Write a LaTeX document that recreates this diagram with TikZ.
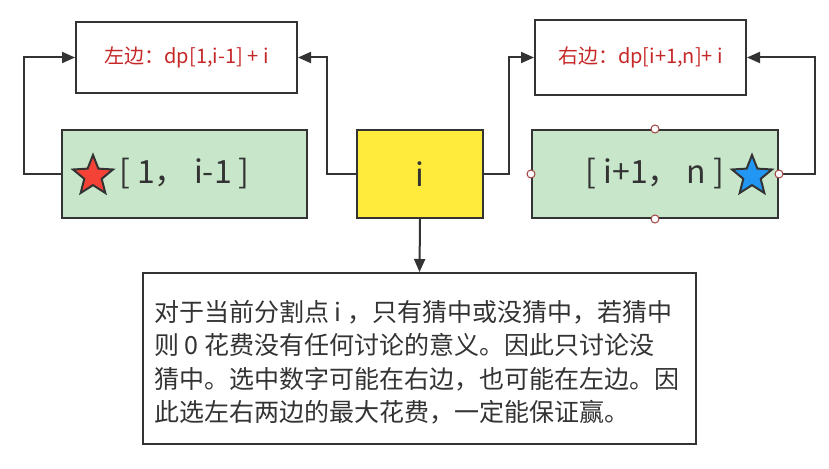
\documentclass[tikz,border=0pt]{standalone}
\usepackage{fontspec}
\setmainfont{Noto Sans CJK SC}
\usetikzlibrary{arrows.meta,shapes.geometric}
\definecolor{edge}{RGB}{51,51,51}
\definecolor{boxgreen}{RGB}{200,230,201}
\definecolor{boxyellow}{RGB}{255,235,59}
\definecolor{labelred}{RGB}{198,40,40}
\definecolor{starred}{RGB}{244,67,54}
\definecolor{starblue}{RGB}{33,150,243}
\definecolor{handle}{RGB}{160,64,64}
\tikzset{
  box/.style={draw=edge,line width=2pt,rectangle,inner sep=0pt,text=edge},
  conn/.style={draw=edge,line width=2pt,-{Triangle[length=13pt,width=11pt]},rounded corners=0pt},
  starnode/.style={star,star points=5,star point ratio=2.3,minimum size=42pt,inner sep=0pt,draw=edge,line width=2pt},
  hnd/.style={circle,draw=handle,fill=white,line width=1pt,minimum size=8pt,inner sep=0pt},
}
\begin{document}
\begin{tikzpicture}[x=1pt,y=-1pt]
\useasboundingbox (0,0) rectangle (829,468);
% top boxes
\node[box,minimum width=221pt,minimum height=71pt,font=\fontsize{20}{24}\selectfont,text=labelred] (tl) at (186.5,57.5) {左边：dp[1,i-1] + i};
\node[box,minimum width=211pt,minimum height=75pt,font=\fontsize{20}{24}\selectfont,text=labelred] (tr) at (640.5,57.5) {右边：dp[i+1,n]+ i};
% middle row
\node[box,fill=boxgreen,minimum width=245pt,minimum height=88pt,font=\fontsize{32}{36}\selectfont] (lg) at (184.5,174) {[ 1， i-1 ]};
\node[box,fill=boxyellow,minimum width=126pt,minimum height=88pt,font=\fontsize{32}{36}\selectfont] (y) at (420,174) {i};
\node[box,fill=boxgreen,minimum width=246pt,minimum height=88pt,font=\fontsize{32}{36}\selectfont] (rg) at (655,174) {[ i+1， n ]};
\node[starnode,fill=starred] (s1) at (93,176) {};
\node[starnode,fill=starblue] (s2) at (752,176) {};
% bottom box
\node[box,minimum width=553pt,minimum height=171pt] (b) at (419.5,358.5) {};
\node[anchor=north west,inner sep=0pt,align=left,text=edge,font=\fontsize{25}{33.5}\selectfont] (bt) at (154,300) {对于当前分割点 i ，只有猜中或没猜中，若猜中\\则 0 花费没有任何讨论的意义。因此只讨论没\\猜中。选中数字可能在右边，也可能在左边。因\\此选左右两边的最大花费，一定能保证赢。};
% connectors
\coordinate (c1) at (24,174);
\draw[conn] (lg.west) -- (c1) |- (tl.west);
\coordinate (c2) at (327,174);
\draw[conn] (y.west) -- (c2) |- (tl.east);
\coordinate (c3) at (509,174);
\draw[conn] (y.east) -- (c3) |- (tr.west);
\coordinate (c4) at (815,174);
\draw[conn] (rg.east) -- (c4) |- (tr.east);
\draw[conn] (y.south) -- (b.north);
% handles
\node[hnd] (h1) at (rg.north) {};
\node[hnd] (h2) at (rg.south) {};
\node[hnd] (h3) at (rg.west) {};
\node[hnd] (h4) at (rg.east) {};
\end{tikzpicture}
\end{document}
